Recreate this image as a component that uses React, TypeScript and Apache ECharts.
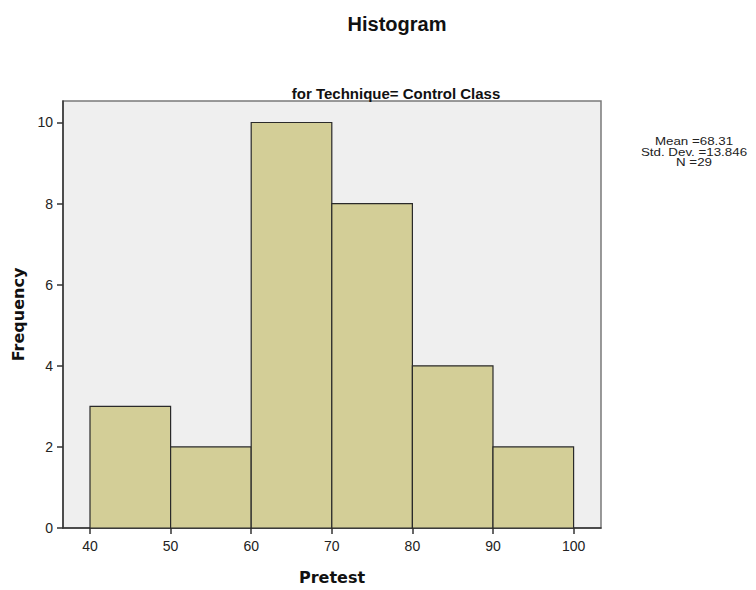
import React, { useEffect, useRef } from "react";
import * as echarts from "echarts";

const binStarts = [40, 50, 60, 70, 80, 90];
const binEnds = [50, 60, 70, 80, 90, 100];
const frequencies = [3, 2, 10, 8, 4, 2];
const xTicks = [40, 50, 60, 70, 80, 90, 100];
const yTicks = [0, 2, 4, 6, 8, 10];
const statsLines = ["Mean =68.31", "Std. Dev. =13.846", "N =29"];

export default function App() {
  const ref = useRef<HTMLDivElement>(null);
  useEffect(() => {
    document.body.style.margin = "0";
    if (!ref.current) return;
    const chart = echarts.init(ref.current, null, { renderer: "svg" });
    const data = binStarts.map((s, i) => [s, binEnds[i], frequencies[i]]);
    const font = "'Liberation Sans', Arial, sans-serif";
    const nameFont = "'DejaVu Sans', Verdana, sans-serif";
    chart.setOption({
      animation: false,
      backgroundColor: "#ffffff",
      textStyle: { fontFamily: font },
      grid: {
        left: 63,
        top: 101,
        right: 155,
        bottom: 60,
        show: true,
        backgroundColor: "#EFEFEF",
        borderColor: "#7a7a7a",
        borderWidth: 1.5,
      },
      xAxis: {
        type: "value",
        min: 36.65,
        max: 103.4,
        splitLine: { show: false },
        axisLine: { show: true, onZero: false, lineStyle: { color: "#333", width: 1.5 } },
        axisTick: { show: true, length: 6, customValues: xTicks, lineStyle: { color: "#333", width: 1.5 } },
        axisLabel: { customValues: xTicks, color: "#222", fontSize: 14, margin: 11, fontFamily: font },
        name: "Pretest",
        nameLocation: "middle",
        nameGap: 41,
        nameTextStyle: { fontSize: 16, fontWeight: "bold", color: "#111", fontFamily: nameFont },
      },
      yAxis: {
        type: "value",
        min: 0,
        max: 10.53,
        splitLine: { show: false },
        axisLine: { show: true, lineStyle: { color: "#333", width: 1.5 } },
        axisTick: { show: true, length: 6, customValues: yTicks, lineStyle: { color: "#333", width: 1.5 } },
        axisLabel: { customValues: yTicks, color: "#222", fontSize: 14, margin: 10, fontFamily: font },
        name: "Frequency",
        nameLocation: "middle",
        nameGap: 34,
        nameTextStyle: { fontSize: 16, fontWeight: "bold", color: "#111", fontFamily: nameFont },
      },
      title: [
        {
          text: "Histogram",
          left: 392,
          top: 9,
          textAlign: "center",
          textStyle: { fontSize: 20, fontWeight: "bold", color: "#111", fontFamily: font },
        },
        {
          text: "for Technique= Control Class",
          left: 391,
          top: 81,
          textAlign: "center",
          textStyle: { fontSize: 15, fontWeight: "bold", color: "#111", fontFamily: font },
        },
      ],
      graphic: statsLines.map((line, i) => ({
        type: "text",
        x: 694,
        y: 136 + i * 10.6,
        scaleX: 1.27,
        style: {
          text: line,
          x: 0,
          y: 0,
          textAlign: "center",
          textVerticalAlign: "top",
          fontSize: 10.5,
          fontFamily: font,
          fill: "#222",
        },
      })),
      series: [
        {
          type: "custom",
          data,
          renderItem: (params: any, api: any) => {
            const p0 = api.coord([api.value(0), 0]);
            const p1 = api.coord([api.value(1), api.value(2)]);
            return {
              type: "rect",
              shape: { x: p0[0], y: p1[1], width: p1[0] - p0[0], height: p0[1] - p1[1] },
              style: { fill: "#D3CE97", stroke: "#2a2a2a", lineWidth: 1.2 },
            };
          },
        },
      ],
    });
    return () => chart.dispose();
  }, []);
  return <div ref={ref} style={{ width: 756, height: 590 }} />;
}
